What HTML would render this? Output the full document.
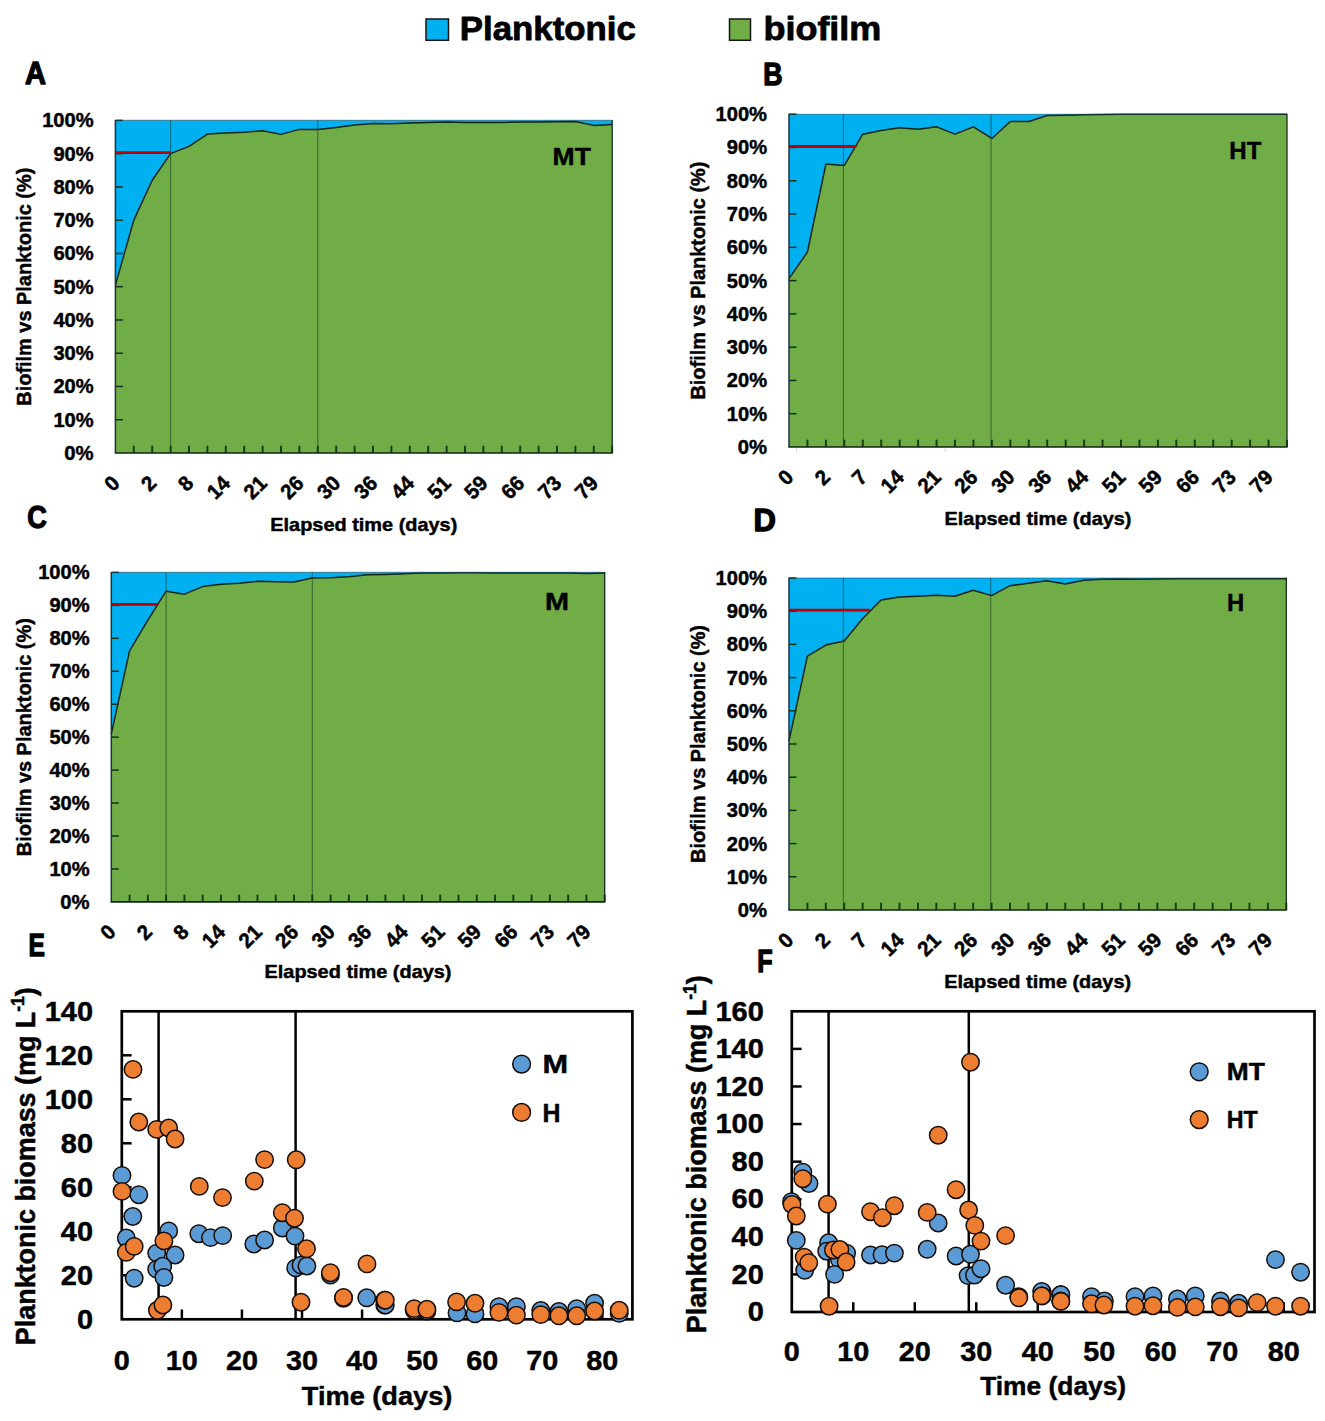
<!DOCTYPE html>
<html lang="en">
<head>
<meta charset="utf-8">
<title>Biofilm vs planktonic biomass</title>
<style>
html,body{margin:0;padding:0;background:#fff;}
body{width:1325px;height:1421px;overflow:hidden;font-family:"Liberation Sans",sans-serif;}
svg text{font-family:"Liberation Sans",sans-serif;font-weight:bold;}
</style>
</head>
<body>
<svg width="1325" height="1421" viewBox="0 0 1325 1421" style="display:block">
<rect x="426" y="19" width="22.5" height="21.3" fill="#00b0f0" stroke="#151515" stroke-width="1.5"/>
<text x="459.80" y="40.20" font-size="34" text-anchor="start" fill="#000" stroke="#000" stroke-width="0.8" stroke-linejoin="round" textLength="176.00" lengthAdjust="spacingAndGlyphs" >Planktonic</text>
<rect x="729.5" y="19" width="21" height="21.3" fill="#70ad47" stroke="#151515" stroke-width="1.5"/>
<text x="763.40" y="40.20" font-size="34" text-anchor="start" fill="#000" stroke="#000" stroke-width="0.8" stroke-linejoin="round" textLength="118.00" lengthAdjust="spacingAndGlyphs" >biofilm</text>
<text x="24.90" y="83.60" font-size="30.5" text-anchor="start" fill="#000" stroke="#000" stroke-width="1.3" stroke-linejoin="round" textLength="21.00" lengthAdjust="spacingAndGlyphs" >A</text>
<text x="763.20" y="85.00" font-size="30.5" text-anchor="start" fill="#000" stroke="#000" stroke-width="1.3" stroke-linejoin="round" textLength="19.30" lengthAdjust="spacingAndGlyphs" >B</text>
<text x="27.30" y="528.00" font-size="30.5" text-anchor="start" fill="#000" stroke="#000" stroke-width="1.3" stroke-linejoin="round" textLength="19.60" lengthAdjust="spacingAndGlyphs" >C</text>
<text x="753.60" y="531.40" font-size="30.5" text-anchor="start" fill="#000" stroke="#000" stroke-width="1.3" stroke-linejoin="round" textLength="22.40" lengthAdjust="spacingAndGlyphs" >D</text>
<text x="28.40" y="955.50" font-size="30.5" text-anchor="start" fill="#000" stroke="#000" stroke-width="1.3" stroke-linejoin="round" textLength="16.40" lengthAdjust="spacingAndGlyphs" >E</text>
<text x="757.30" y="972.40" font-size="30.5" text-anchor="start" fill="#000" stroke="#000" stroke-width="1.3" stroke-linejoin="round" textLength="15.40" lengthAdjust="spacingAndGlyphs" >F</text>
<g font-family="Liberation Sans, sans-serif" font-weight="bold">
<rect x="115.40" y="120.40" width="496.80" height="332.60" fill="#00b0f0"/>
<polygon points="115.40,453.00 115.40,285.04 133.80,220.18 152.20,180.27 170.60,153.66 189.00,146.34 207.40,134.04 225.80,133.04 244.20,132.37 262.60,130.71 281.00,134.37 299.40,129.38 317.80,129.38 336.20,127.38 354.60,125.06 373.00,123.39 391.40,123.73 409.80,123.06 428.20,122.40 446.60,122.06 465.00,122.40 483.40,122.40 501.80,122.40 520.20,122.06 538.60,122.06 557.00,121.73 575.40,121.40 593.80,125.39 612.20,124.39 612.20,453.00" fill="#70ad47"/>
<polyline points="115.40,285.04 133.80,220.18 152.20,180.27 170.60,153.66 189.00,146.34 207.40,134.04 225.80,133.04 244.20,132.37 262.60,130.71 281.00,134.37 299.40,129.38 317.80,129.38 336.20,127.38 354.60,125.06 373.00,123.39 391.40,123.73 409.80,123.06 428.20,122.40 446.60,122.06 465.00,122.40 483.40,122.40 501.80,122.40 520.20,122.06 538.60,122.06 557.00,121.73 575.40,121.40 593.80,125.39 612.20,124.39" fill="none" stroke="#0e2416" stroke-width="1.5" stroke-linejoin="round"/>
<line x1="170.60" y1="120.40" x2="170.60" y2="453.00" stroke="#0d2a18" stroke-opacity="0.5" stroke-width="1.1"/>
<line x1="317.80" y1="120.40" x2="317.80" y2="453.00" stroke="#0d2a18" stroke-opacity="0.5" stroke-width="1.1"/>
<line x1="115.40" y1="419.74" x2="122.90" y2="419.74" stroke="#14301a" stroke-width="1.5"/>
<line x1="115.40" y1="386.48" x2="122.90" y2="386.48" stroke="#14301a" stroke-width="1.5"/>
<line x1="115.40" y1="353.22" x2="122.90" y2="353.22" stroke="#14301a" stroke-width="1.5"/>
<line x1="115.40" y1="319.96" x2="122.90" y2="319.96" stroke="#14301a" stroke-width="1.5"/>
<line x1="115.40" y1="286.70" x2="122.90" y2="286.70" stroke="#14301a" stroke-width="1.5"/>
<line x1="115.40" y1="253.44" x2="122.90" y2="253.44" stroke="#14301a" stroke-width="1.5"/>
<line x1="115.40" y1="220.18" x2="122.90" y2="220.18" stroke="#14301a" stroke-width="1.5"/>
<line x1="115.40" y1="186.92" x2="122.90" y2="186.92" stroke="#14301a" stroke-width="1.5"/>
<line x1="115.40" y1="153.66" x2="122.90" y2="153.66" stroke="#14301a" stroke-width="1.5"/>
<line x1="115.40" y1="120.40" x2="122.90" y2="120.40" stroke="#14301a" stroke-width="1.5"/>
<line x1="133.80" y1="453.00" x2="133.80" y2="445.70" stroke="#163a0e" stroke-width="1.9"/>
<line x1="152.20" y1="453.00" x2="152.20" y2="445.70" stroke="#163a0e" stroke-width="1.9"/>
<line x1="170.60" y1="453.00" x2="170.60" y2="445.70" stroke="#163a0e" stroke-width="1.9"/>
<line x1="189.00" y1="453.00" x2="189.00" y2="445.70" stroke="#163a0e" stroke-width="1.9"/>
<line x1="207.40" y1="453.00" x2="207.40" y2="445.70" stroke="#163a0e" stroke-width="1.9"/>
<line x1="225.80" y1="453.00" x2="225.80" y2="445.70" stroke="#163a0e" stroke-width="1.9"/>
<line x1="244.20" y1="453.00" x2="244.20" y2="445.70" stroke="#163a0e" stroke-width="1.9"/>
<line x1="262.60" y1="453.00" x2="262.60" y2="445.70" stroke="#163a0e" stroke-width="1.9"/>
<line x1="281.00" y1="453.00" x2="281.00" y2="445.70" stroke="#163a0e" stroke-width="1.9"/>
<line x1="299.40" y1="453.00" x2="299.40" y2="445.70" stroke="#163a0e" stroke-width="1.9"/>
<line x1="317.80" y1="453.00" x2="317.80" y2="445.70" stroke="#163a0e" stroke-width="1.9"/>
<line x1="336.20" y1="453.00" x2="336.20" y2="445.70" stroke="#163a0e" stroke-width="1.9"/>
<line x1="354.60" y1="453.00" x2="354.60" y2="445.70" stroke="#163a0e" stroke-width="1.9"/>
<line x1="373.00" y1="453.00" x2="373.00" y2="445.70" stroke="#163a0e" stroke-width="1.9"/>
<line x1="391.40" y1="453.00" x2="391.40" y2="445.70" stroke="#163a0e" stroke-width="1.9"/>
<line x1="409.80" y1="453.00" x2="409.80" y2="445.70" stroke="#163a0e" stroke-width="1.9"/>
<line x1="428.20" y1="453.00" x2="428.20" y2="445.70" stroke="#163a0e" stroke-width="1.9"/>
<line x1="446.60" y1="453.00" x2="446.60" y2="445.70" stroke="#163a0e" stroke-width="1.9"/>
<line x1="465.00" y1="453.00" x2="465.00" y2="445.70" stroke="#163a0e" stroke-width="1.9"/>
<line x1="483.40" y1="453.00" x2="483.40" y2="445.70" stroke="#163a0e" stroke-width="1.9"/>
<line x1="501.80" y1="453.00" x2="501.80" y2="445.70" stroke="#163a0e" stroke-width="1.9"/>
<line x1="520.20" y1="453.00" x2="520.20" y2="445.70" stroke="#163a0e" stroke-width="1.9"/>
<line x1="538.60" y1="453.00" x2="538.60" y2="445.70" stroke="#163a0e" stroke-width="1.9"/>
<line x1="557.00" y1="453.00" x2="557.00" y2="445.70" stroke="#163a0e" stroke-width="1.9"/>
<line x1="575.40" y1="453.00" x2="575.40" y2="445.70" stroke="#163a0e" stroke-width="1.9"/>
<line x1="593.80" y1="453.00" x2="593.80" y2="445.70" stroke="#163a0e" stroke-width="1.9"/>
<line x1="612.20" y1="453.00" x2="612.20" y2="445.70" stroke="#163a0e" stroke-width="1.9"/>
<line x1="115.40" y1="152.66" x2="170.60" y2="152.66" stroke="#c00000" stroke-width="2.8"/>
<line x1="115.40" y1="120.40" x2="612.20" y2="120.40" stroke="#154a66" stroke-opacity="0.55" stroke-width="1.1"/>
<line x1="115.40" y1="119.90" x2="115.40" y2="453.00" stroke="#1d3344" stroke-width="1.5"/>
<line x1="612.20" y1="119.90" x2="612.20" y2="453.00" stroke="#14301c" stroke-width="1.3"/>
<line x1="114.80" y1="453.00" x2="612.80" y2="453.00" stroke="#10260c" stroke-width="1.6"/>
<text x="93.60" y="460.00" font-size="19.5" text-anchor="end" fill="#000" stroke="#000" stroke-width="0.45" stroke-linejoin="round" textLength="29.30" lengthAdjust="spacingAndGlyphs" >0%</text>
<text x="93.60" y="426.74" font-size="19.5" text-anchor="end" fill="#000" stroke="#000" stroke-width="0.45" stroke-linejoin="round" textLength="40.20" lengthAdjust="spacingAndGlyphs" >10%</text>
<text x="93.60" y="393.48" font-size="19.5" text-anchor="end" fill="#000" stroke="#000" stroke-width="0.45" stroke-linejoin="round" textLength="40.20" lengthAdjust="spacingAndGlyphs" >20%</text>
<text x="93.60" y="360.22" font-size="19.5" text-anchor="end" fill="#000" stroke="#000" stroke-width="0.45" stroke-linejoin="round" textLength="40.20" lengthAdjust="spacingAndGlyphs" >30%</text>
<text x="93.60" y="326.96" font-size="19.5" text-anchor="end" fill="#000" stroke="#000" stroke-width="0.45" stroke-linejoin="round" textLength="40.20" lengthAdjust="spacingAndGlyphs" >40%</text>
<text x="93.60" y="293.70" font-size="19.5" text-anchor="end" fill="#000" stroke="#000" stroke-width="0.45" stroke-linejoin="round" textLength="40.20" lengthAdjust="spacingAndGlyphs" >50%</text>
<text x="93.60" y="260.44" font-size="19.5" text-anchor="end" fill="#000" stroke="#000" stroke-width="0.45" stroke-linejoin="round" textLength="40.20" lengthAdjust="spacingAndGlyphs" >60%</text>
<text x="93.60" y="227.18" font-size="19.5" text-anchor="end" fill="#000" stroke="#000" stroke-width="0.45" stroke-linejoin="round" textLength="40.20" lengthAdjust="spacingAndGlyphs" >70%</text>
<text x="93.60" y="193.92" font-size="19.5" text-anchor="end" fill="#000" stroke="#000" stroke-width="0.45" stroke-linejoin="round" textLength="40.20" lengthAdjust="spacingAndGlyphs" >80%</text>
<text x="93.60" y="160.66" font-size="19.5" text-anchor="end" fill="#000" stroke="#000" stroke-width="0.45" stroke-linejoin="round" textLength="40.20" lengthAdjust="spacingAndGlyphs" >90%</text>
<text x="93.60" y="127.40" font-size="19.5" text-anchor="end" fill="#000" stroke="#000" stroke-width="0.45" stroke-linejoin="round" textLength="51.40" lengthAdjust="spacingAndGlyphs" >100%</text>
<text x="0" y="0" font-size="21" text-anchor="end" textLength="11.3" lengthAdjust="spacingAndGlyphs" stroke="#000" stroke-width="0.5" transform="translate(115.80 479.20) rotate(-45)" dy="7.4">0</text>
<text x="0" y="0" font-size="21" text-anchor="end" textLength="11.3" lengthAdjust="spacingAndGlyphs" stroke="#000" stroke-width="0.5" transform="translate(152.60 479.20) rotate(-45)" dy="7.4">2</text>
<text x="0" y="0" font-size="21" text-anchor="end" textLength="11.3" lengthAdjust="spacingAndGlyphs" stroke="#000" stroke-width="0.5" transform="translate(189.40 479.20) rotate(-45)" dy="7.4">8</text>
<text x="0" y="0" font-size="21" text-anchor="end" textLength="22.6" lengthAdjust="spacingAndGlyphs" stroke="#000" stroke-width="0.5" transform="translate(226.20 479.20) rotate(-45)" dy="7.4">14</text>
<text x="0" y="0" font-size="21" text-anchor="end" textLength="22.6" lengthAdjust="spacingAndGlyphs" stroke="#000" stroke-width="0.5" transform="translate(263.00 479.20) rotate(-45)" dy="7.4">21</text>
<text x="0" y="0" font-size="21" text-anchor="end" textLength="22.6" lengthAdjust="spacingAndGlyphs" stroke="#000" stroke-width="0.5" transform="translate(299.80 479.20) rotate(-45)" dy="7.4">26</text>
<text x="0" y="0" font-size="21" text-anchor="end" textLength="22.6" lengthAdjust="spacingAndGlyphs" stroke="#000" stroke-width="0.5" transform="translate(336.60 479.20) rotate(-45)" dy="7.4">30</text>
<text x="0" y="0" font-size="21" text-anchor="end" textLength="22.6" lengthAdjust="spacingAndGlyphs" stroke="#000" stroke-width="0.5" transform="translate(373.40 479.20) rotate(-45)" dy="7.4">36</text>
<text x="0" y="0" font-size="21" text-anchor="end" textLength="22.6" lengthAdjust="spacingAndGlyphs" stroke="#000" stroke-width="0.5" transform="translate(410.20 479.20) rotate(-45)" dy="7.4">44</text>
<text x="0" y="0" font-size="21" text-anchor="end" textLength="22.6" lengthAdjust="spacingAndGlyphs" stroke="#000" stroke-width="0.5" transform="translate(447.00 479.20) rotate(-45)" dy="7.4">51</text>
<text x="0" y="0" font-size="21" text-anchor="end" textLength="22.6" lengthAdjust="spacingAndGlyphs" stroke="#000" stroke-width="0.5" transform="translate(483.80 479.20) rotate(-45)" dy="7.4">59</text>
<text x="0" y="0" font-size="21" text-anchor="end" textLength="22.6" lengthAdjust="spacingAndGlyphs" stroke="#000" stroke-width="0.5" transform="translate(520.60 479.20) rotate(-45)" dy="7.4">66</text>
<text x="0" y="0" font-size="21" text-anchor="end" textLength="22.6" lengthAdjust="spacingAndGlyphs" stroke="#000" stroke-width="0.5" transform="translate(557.40 479.20) rotate(-45)" dy="7.4">73</text>
<text x="0" y="0" font-size="21" text-anchor="end" textLength="22.6" lengthAdjust="spacingAndGlyphs" stroke="#000" stroke-width="0.5" transform="translate(594.20 479.20) rotate(-45)" dy="7.4">79</text>
<text x="31.50" y="286.70" font-size="19.5" text-anchor="middle" fill="#000" stroke="#000" stroke-width="0.45" stroke-linejoin="round" textLength="238.00" lengthAdjust="spacingAndGlyphs" transform="rotate(-90 31.50 286.70)" >Biofilm vs Planktonic (%)</text>
<text x="363.80" y="530.80" font-size="18.5" text-anchor="middle" fill="#000" stroke="#000" stroke-width="0.45" stroke-linejoin="round" textLength="187.00" lengthAdjust="spacingAndGlyphs" >Elapsed time (days)</text>
<text x="552.60" y="165.30" font-size="24" text-anchor="start" fill="#000" stroke="#000" stroke-width="0.45" stroke-linejoin="round" textLength="38.20" lengthAdjust="spacingAndGlyphs" >MT</text>
<rect x="789.00" y="114.20" width="498.00" height="332.80" fill="#00b0f0"/>
<polygon points="789.00,447.00 789.00,278.60 807.44,251.98 825.89,164.12 844.33,165.45 862.78,134.17 881.22,130.51 899.67,127.84 918.11,129.18 936.56,126.85 955.00,134.17 973.44,126.85 991.89,138.49 1010.33,121.52 1028.78,121.52 1047.22,115.53 1065.67,115.20 1084.11,114.87 1102.56,114.53 1121.00,114.20 1139.44,114.20 1157.89,114.20 1176.33,114.20 1194.78,114.20 1213.22,114.20 1231.67,114.20 1250.11,114.20 1268.56,114.20 1287.00,114.20 1287.00,447.00" fill="#70ad47"/>
<polyline points="789.00,278.60 807.44,251.98 825.89,164.12 844.33,165.45 862.78,134.17 881.22,130.51 899.67,127.84 918.11,129.18 936.56,126.85 955.00,134.17 973.44,126.85 991.89,138.49 1010.33,121.52 1028.78,121.52 1047.22,115.53 1065.67,115.20 1084.11,114.87 1102.56,114.53 1121.00,114.20 1139.44,114.20 1157.89,114.20 1176.33,114.20 1194.78,114.20 1213.22,114.20 1231.67,114.20 1250.11,114.20 1268.56,114.20 1287.00,114.20" fill="none" stroke="#0e2416" stroke-width="1.5" stroke-linejoin="round"/>
<line x1="843.43" y1="114.20" x2="843.43" y2="447.00" stroke="#0d2a18" stroke-opacity="0.5" stroke-width="1.1"/>
<line x1="990.99" y1="114.20" x2="990.99" y2="447.00" stroke="#0d2a18" stroke-opacity="0.5" stroke-width="1.1"/>
<line x1="789.00" y1="413.72" x2="796.50" y2="413.72" stroke="#14301a" stroke-width="1.5"/>
<line x1="789.00" y1="380.44" x2="796.50" y2="380.44" stroke="#14301a" stroke-width="1.5"/>
<line x1="789.00" y1="347.16" x2="796.50" y2="347.16" stroke="#14301a" stroke-width="1.5"/>
<line x1="789.00" y1="313.88" x2="796.50" y2="313.88" stroke="#14301a" stroke-width="1.5"/>
<line x1="789.00" y1="280.60" x2="796.50" y2="280.60" stroke="#14301a" stroke-width="1.5"/>
<line x1="789.00" y1="247.32" x2="796.50" y2="247.32" stroke="#14301a" stroke-width="1.5"/>
<line x1="789.00" y1="214.04" x2="796.50" y2="214.04" stroke="#14301a" stroke-width="1.5"/>
<line x1="789.00" y1="180.76" x2="796.50" y2="180.76" stroke="#14301a" stroke-width="1.5"/>
<line x1="789.00" y1="147.48" x2="796.50" y2="147.48" stroke="#14301a" stroke-width="1.5"/>
<line x1="789.00" y1="114.20" x2="796.50" y2="114.20" stroke="#14301a" stroke-width="1.5"/>
<line x1="807.44" y1="447.00" x2="807.44" y2="439.70" stroke="#163a0e" stroke-width="1.9"/>
<line x1="825.89" y1="447.00" x2="825.89" y2="439.70" stroke="#163a0e" stroke-width="1.9"/>
<line x1="844.33" y1="447.00" x2="844.33" y2="439.70" stroke="#163a0e" stroke-width="1.9"/>
<line x1="862.78" y1="447.00" x2="862.78" y2="439.70" stroke="#163a0e" stroke-width="1.9"/>
<line x1="881.22" y1="447.00" x2="881.22" y2="439.70" stroke="#163a0e" stroke-width="1.9"/>
<line x1="899.67" y1="447.00" x2="899.67" y2="439.70" stroke="#163a0e" stroke-width="1.9"/>
<line x1="918.11" y1="447.00" x2="918.11" y2="439.70" stroke="#163a0e" stroke-width="1.9"/>
<line x1="936.56" y1="447.00" x2="936.56" y2="439.70" stroke="#163a0e" stroke-width="1.9"/>
<line x1="955.00" y1="447.00" x2="955.00" y2="439.70" stroke="#163a0e" stroke-width="1.9"/>
<line x1="973.44" y1="447.00" x2="973.44" y2="439.70" stroke="#163a0e" stroke-width="1.9"/>
<line x1="991.89" y1="447.00" x2="991.89" y2="439.70" stroke="#163a0e" stroke-width="1.9"/>
<line x1="1010.33" y1="447.00" x2="1010.33" y2="439.70" stroke="#163a0e" stroke-width="1.9"/>
<line x1="1028.78" y1="447.00" x2="1028.78" y2="439.70" stroke="#163a0e" stroke-width="1.9"/>
<line x1="1047.22" y1="447.00" x2="1047.22" y2="439.70" stroke="#163a0e" stroke-width="1.9"/>
<line x1="1065.67" y1="447.00" x2="1065.67" y2="439.70" stroke="#163a0e" stroke-width="1.9"/>
<line x1="1084.11" y1="447.00" x2="1084.11" y2="439.70" stroke="#163a0e" stroke-width="1.9"/>
<line x1="1102.56" y1="447.00" x2="1102.56" y2="439.70" stroke="#163a0e" stroke-width="1.9"/>
<line x1="1121.00" y1="447.00" x2="1121.00" y2="439.70" stroke="#163a0e" stroke-width="1.9"/>
<line x1="1139.44" y1="447.00" x2="1139.44" y2="439.70" stroke="#163a0e" stroke-width="1.9"/>
<line x1="1157.89" y1="447.00" x2="1157.89" y2="439.70" stroke="#163a0e" stroke-width="1.9"/>
<line x1="1176.33" y1="447.00" x2="1176.33" y2="439.70" stroke="#163a0e" stroke-width="1.9"/>
<line x1="1194.78" y1="447.00" x2="1194.78" y2="439.70" stroke="#163a0e" stroke-width="1.9"/>
<line x1="1213.22" y1="447.00" x2="1213.22" y2="439.70" stroke="#163a0e" stroke-width="1.9"/>
<line x1="1231.67" y1="447.00" x2="1231.67" y2="439.70" stroke="#163a0e" stroke-width="1.9"/>
<line x1="1250.11" y1="447.00" x2="1250.11" y2="439.70" stroke="#163a0e" stroke-width="1.9"/>
<line x1="1268.56" y1="447.00" x2="1268.56" y2="439.70" stroke="#163a0e" stroke-width="1.9"/>
<line x1="1287.00" y1="447.00" x2="1287.00" y2="439.70" stroke="#163a0e" stroke-width="1.9"/>
<line x1="789.00" y1="146.48" x2="856.30" y2="146.48" stroke="#c00000" stroke-width="2.8"/>
<line x1="789.00" y1="114.20" x2="1287.00" y2="114.20" stroke="#154a66" stroke-opacity="0.55" stroke-width="1.1"/>
<line x1="789.00" y1="113.70" x2="789.00" y2="447.00" stroke="#1d3344" stroke-width="1.5"/>
<line x1="1287.00" y1="113.70" x2="1287.00" y2="447.00" stroke="#14301c" stroke-width="1.3"/>
<line x1="788.40" y1="447.00" x2="1287.60" y2="447.00" stroke="#10260c" stroke-width="1.6"/>
<text x="767.00" y="454.00" font-size="19.5" text-anchor="end" fill="#000" stroke="#000" stroke-width="0.45" stroke-linejoin="round" textLength="29.30" lengthAdjust="spacingAndGlyphs" >0%</text>
<text x="767.00" y="420.72" font-size="19.5" text-anchor="end" fill="#000" stroke="#000" stroke-width="0.45" stroke-linejoin="round" textLength="40.20" lengthAdjust="spacingAndGlyphs" >10%</text>
<text x="767.00" y="387.44" font-size="19.5" text-anchor="end" fill="#000" stroke="#000" stroke-width="0.45" stroke-linejoin="round" textLength="40.20" lengthAdjust="spacingAndGlyphs" >20%</text>
<text x="767.00" y="354.16" font-size="19.5" text-anchor="end" fill="#000" stroke="#000" stroke-width="0.45" stroke-linejoin="round" textLength="40.20" lengthAdjust="spacingAndGlyphs" >30%</text>
<text x="767.00" y="320.88" font-size="19.5" text-anchor="end" fill="#000" stroke="#000" stroke-width="0.45" stroke-linejoin="round" textLength="40.20" lengthAdjust="spacingAndGlyphs" >40%</text>
<text x="767.00" y="287.60" font-size="19.5" text-anchor="end" fill="#000" stroke="#000" stroke-width="0.45" stroke-linejoin="round" textLength="40.20" lengthAdjust="spacingAndGlyphs" >50%</text>
<text x="767.00" y="254.32" font-size="19.5" text-anchor="end" fill="#000" stroke="#000" stroke-width="0.45" stroke-linejoin="round" textLength="40.20" lengthAdjust="spacingAndGlyphs" >60%</text>
<text x="767.00" y="221.04" font-size="19.5" text-anchor="end" fill="#000" stroke="#000" stroke-width="0.45" stroke-linejoin="round" textLength="40.20" lengthAdjust="spacingAndGlyphs" >70%</text>
<text x="767.00" y="187.76" font-size="19.5" text-anchor="end" fill="#000" stroke="#000" stroke-width="0.45" stroke-linejoin="round" textLength="40.20" lengthAdjust="spacingAndGlyphs" >80%</text>
<text x="767.00" y="154.48" font-size="19.5" text-anchor="end" fill="#000" stroke="#000" stroke-width="0.45" stroke-linejoin="round" textLength="40.20" lengthAdjust="spacingAndGlyphs" >90%</text>
<text x="767.00" y="121.20" font-size="19.5" text-anchor="end" fill="#000" stroke="#000" stroke-width="0.45" stroke-linejoin="round" textLength="51.40" lengthAdjust="spacingAndGlyphs" >100%</text>
<text x="0" y="0" font-size="21" text-anchor="end" textLength="11.3" lengthAdjust="spacingAndGlyphs" stroke="#000" stroke-width="0.5" transform="translate(789.40 473.20) rotate(-45)" dy="7.4">0</text>
<text x="0" y="0" font-size="21" text-anchor="end" textLength="11.3" lengthAdjust="spacingAndGlyphs" stroke="#000" stroke-width="0.5" transform="translate(826.29 473.20) rotate(-45)" dy="7.4">2</text>
<text x="0" y="0" font-size="21" text-anchor="end" textLength="11.3" lengthAdjust="spacingAndGlyphs" stroke="#000" stroke-width="0.5" transform="translate(863.18 473.20) rotate(-45)" dy="7.4">7</text>
<text x="0" y="0" font-size="21" text-anchor="end" textLength="22.6" lengthAdjust="spacingAndGlyphs" stroke="#000" stroke-width="0.5" transform="translate(900.07 473.20) rotate(-45)" dy="7.4">14</text>
<text x="0" y="0" font-size="21" text-anchor="end" textLength="22.6" lengthAdjust="spacingAndGlyphs" stroke="#000" stroke-width="0.5" transform="translate(936.96 473.20) rotate(-45)" dy="7.4">21</text>
<text x="0" y="0" font-size="21" text-anchor="end" textLength="22.6" lengthAdjust="spacingAndGlyphs" stroke="#000" stroke-width="0.5" transform="translate(973.84 473.20) rotate(-45)" dy="7.4">26</text>
<text x="0" y="0" font-size="21" text-anchor="end" textLength="22.6" lengthAdjust="spacingAndGlyphs" stroke="#000" stroke-width="0.5" transform="translate(1010.73 473.20) rotate(-45)" dy="7.4">30</text>
<text x="0" y="0" font-size="21" text-anchor="end" textLength="22.6" lengthAdjust="spacingAndGlyphs" stroke="#000" stroke-width="0.5" transform="translate(1047.62 473.20) rotate(-45)" dy="7.4">36</text>
<text x="0" y="0" font-size="21" text-anchor="end" textLength="22.6" lengthAdjust="spacingAndGlyphs" stroke="#000" stroke-width="0.5" transform="translate(1084.51 473.20) rotate(-45)" dy="7.4">44</text>
<text x="0" y="0" font-size="21" text-anchor="end" textLength="22.6" lengthAdjust="spacingAndGlyphs" stroke="#000" stroke-width="0.5" transform="translate(1121.40 473.20) rotate(-45)" dy="7.4">51</text>
<text x="0" y="0" font-size="21" text-anchor="end" textLength="22.6" lengthAdjust="spacingAndGlyphs" stroke="#000" stroke-width="0.5" transform="translate(1158.29 473.20) rotate(-45)" dy="7.4">59</text>
<text x="0" y="0" font-size="21" text-anchor="end" textLength="22.6" lengthAdjust="spacingAndGlyphs" stroke="#000" stroke-width="0.5" transform="translate(1195.18 473.20) rotate(-45)" dy="7.4">66</text>
<text x="0" y="0" font-size="21" text-anchor="end" textLength="22.6" lengthAdjust="spacingAndGlyphs" stroke="#000" stroke-width="0.5" transform="translate(1232.07 473.20) rotate(-45)" dy="7.4">73</text>
<text x="0" y="0" font-size="21" text-anchor="end" textLength="22.6" lengthAdjust="spacingAndGlyphs" stroke="#000" stroke-width="0.5" transform="translate(1268.96 473.20) rotate(-45)" dy="7.4">79</text>
<text x="705.00" y="280.60" font-size="19.5" text-anchor="middle" fill="#000" stroke="#000" stroke-width="0.45" stroke-linejoin="round" textLength="238.00" lengthAdjust="spacingAndGlyphs" transform="rotate(-90 705.00 280.60)" >Biofilm vs Planktonic (%)</text>
<text x="1038.00" y="524.50" font-size="18.5" text-anchor="middle" fill="#000" stroke="#000" stroke-width="0.45" stroke-linejoin="round" textLength="187.00" lengthAdjust="spacingAndGlyphs" >Elapsed time (days)</text>
<text x="1229.30" y="158.50" font-size="24" text-anchor="start" fill="#000" stroke="#000" stroke-width="0.45" stroke-linejoin="round" textLength="32.00" lengthAdjust="spacingAndGlyphs" >HT</text>
<rect x="111.30" y="572.40" width="493.40" height="329.50" fill="#00b0f0"/>
<polygon points="111.30,901.90 111.30,733.86 129.57,650.82 147.85,620.18 166.12,591.18 184.40,594.15 202.67,586.57 220.94,584.26 239.22,583.27 257.49,581.30 275.77,581.63 294.04,581.96 312.31,578.00 330.59,577.67 348.86,576.68 367.14,574.71 385.41,574.38 403.69,573.72 421.96,573.06 440.23,573.06 458.51,572.73 476.78,572.73 495.06,573.06 513.33,573.06 531.60,573.06 549.88,573.06 568.15,573.06 586.43,573.39 604.70,573.06 604.70,901.90" fill="#70ad47"/>
<polyline points="111.30,733.86 129.57,650.82 147.85,620.18 166.12,591.18 184.40,594.15 202.67,586.57 220.94,584.26 239.22,583.27 257.49,581.30 275.77,581.63 294.04,581.96 312.31,578.00 330.59,577.67 348.86,576.68 367.14,574.71 385.41,574.38 403.69,573.72 421.96,573.06 440.23,573.06 458.51,572.73 476.78,572.73 495.06,573.06 513.33,573.06 531.60,573.06 549.88,573.06 568.15,573.06 586.43,573.39 604.70,573.06" fill="none" stroke="#0e2416" stroke-width="1.5" stroke-linejoin="round"/>
<line x1="166.12" y1="572.40" x2="166.12" y2="901.90" stroke="#0d2a18" stroke-opacity="0.5" stroke-width="1.1"/>
<line x1="312.31" y1="572.40" x2="312.31" y2="901.90" stroke="#0d2a18" stroke-opacity="0.5" stroke-width="1.1"/>
<line x1="111.30" y1="868.95" x2="118.80" y2="868.95" stroke="#14301a" stroke-width="1.5"/>
<line x1="111.30" y1="836.00" x2="118.80" y2="836.00" stroke="#14301a" stroke-width="1.5"/>
<line x1="111.30" y1="803.05" x2="118.80" y2="803.05" stroke="#14301a" stroke-width="1.5"/>
<line x1="111.30" y1="770.10" x2="118.80" y2="770.10" stroke="#14301a" stroke-width="1.5"/>
<line x1="111.30" y1="737.15" x2="118.80" y2="737.15" stroke="#14301a" stroke-width="1.5"/>
<line x1="111.30" y1="704.20" x2="118.80" y2="704.20" stroke="#14301a" stroke-width="1.5"/>
<line x1="111.30" y1="671.25" x2="118.80" y2="671.25" stroke="#14301a" stroke-width="1.5"/>
<line x1="111.30" y1="638.30" x2="118.80" y2="638.30" stroke="#14301a" stroke-width="1.5"/>
<line x1="111.30" y1="605.35" x2="118.80" y2="605.35" stroke="#14301a" stroke-width="1.5"/>
<line x1="111.30" y1="572.40" x2="118.80" y2="572.40" stroke="#14301a" stroke-width="1.5"/>
<line x1="129.57" y1="901.90" x2="129.57" y2="894.60" stroke="#163a0e" stroke-width="1.9"/>
<line x1="147.85" y1="901.90" x2="147.85" y2="894.60" stroke="#163a0e" stroke-width="1.9"/>
<line x1="166.12" y1="901.90" x2="166.12" y2="894.60" stroke="#163a0e" stroke-width="1.9"/>
<line x1="184.40" y1="901.90" x2="184.40" y2="894.60" stroke="#163a0e" stroke-width="1.9"/>
<line x1="202.67" y1="901.90" x2="202.67" y2="894.60" stroke="#163a0e" stroke-width="1.9"/>
<line x1="220.94" y1="901.90" x2="220.94" y2="894.60" stroke="#163a0e" stroke-width="1.9"/>
<line x1="239.22" y1="901.90" x2="239.22" y2="894.60" stroke="#163a0e" stroke-width="1.9"/>
<line x1="257.49" y1="901.90" x2="257.49" y2="894.60" stroke="#163a0e" stroke-width="1.9"/>
<line x1="275.77" y1="901.90" x2="275.77" y2="894.60" stroke="#163a0e" stroke-width="1.9"/>
<line x1="294.04" y1="901.90" x2="294.04" y2="894.60" stroke="#163a0e" stroke-width="1.9"/>
<line x1="312.31" y1="901.90" x2="312.31" y2="894.60" stroke="#163a0e" stroke-width="1.9"/>
<line x1="330.59" y1="901.90" x2="330.59" y2="894.60" stroke="#163a0e" stroke-width="1.9"/>
<line x1="348.86" y1="901.90" x2="348.86" y2="894.60" stroke="#163a0e" stroke-width="1.9"/>
<line x1="367.14" y1="901.90" x2="367.14" y2="894.60" stroke="#163a0e" stroke-width="1.9"/>
<line x1="385.41" y1="901.90" x2="385.41" y2="894.60" stroke="#163a0e" stroke-width="1.9"/>
<line x1="403.69" y1="901.90" x2="403.69" y2="894.60" stroke="#163a0e" stroke-width="1.9"/>
<line x1="421.96" y1="901.90" x2="421.96" y2="894.60" stroke="#163a0e" stroke-width="1.9"/>
<line x1="440.23" y1="901.90" x2="440.23" y2="894.60" stroke="#163a0e" stroke-width="1.9"/>
<line x1="458.51" y1="901.90" x2="458.51" y2="894.60" stroke="#163a0e" stroke-width="1.9"/>
<line x1="476.78" y1="901.90" x2="476.78" y2="894.60" stroke="#163a0e" stroke-width="1.9"/>
<line x1="495.06" y1="901.90" x2="495.06" y2="894.60" stroke="#163a0e" stroke-width="1.9"/>
<line x1="513.33" y1="901.90" x2="513.33" y2="894.60" stroke="#163a0e" stroke-width="1.9"/>
<line x1="531.60" y1="901.90" x2="531.60" y2="894.60" stroke="#163a0e" stroke-width="1.9"/>
<line x1="549.88" y1="901.90" x2="549.88" y2="894.60" stroke="#163a0e" stroke-width="1.9"/>
<line x1="568.15" y1="901.90" x2="568.15" y2="894.60" stroke="#163a0e" stroke-width="1.9"/>
<line x1="586.43" y1="901.90" x2="586.43" y2="894.60" stroke="#163a0e" stroke-width="1.9"/>
<line x1="604.70" y1="901.90" x2="604.70" y2="894.60" stroke="#163a0e" stroke-width="1.9"/>
<line x1="111.30" y1="604.35" x2="157.00" y2="604.35" stroke="#c00000" stroke-width="2.8"/>
<line x1="111.30" y1="572.40" x2="604.70" y2="572.40" stroke="#154a66" stroke-opacity="0.55" stroke-width="1.1"/>
<line x1="111.30" y1="571.90" x2="111.30" y2="901.90" stroke="#1d3344" stroke-width="1.5"/>
<line x1="604.70" y1="571.90" x2="604.70" y2="901.90" stroke="#14301c" stroke-width="1.3"/>
<line x1="110.70" y1="901.90" x2="605.30" y2="901.90" stroke="#10260c" stroke-width="1.6"/>
<text x="89.60" y="908.90" font-size="19.5" text-anchor="end" fill="#000" stroke="#000" stroke-width="0.45" stroke-linejoin="round" textLength="29.30" lengthAdjust="spacingAndGlyphs" >0%</text>
<text x="89.60" y="875.95" font-size="19.5" text-anchor="end" fill="#000" stroke="#000" stroke-width="0.45" stroke-linejoin="round" textLength="40.20" lengthAdjust="spacingAndGlyphs" >10%</text>
<text x="89.60" y="843.00" font-size="19.5" text-anchor="end" fill="#000" stroke="#000" stroke-width="0.45" stroke-linejoin="round" textLength="40.20" lengthAdjust="spacingAndGlyphs" >20%</text>
<text x="89.60" y="810.05" font-size="19.5" text-anchor="end" fill="#000" stroke="#000" stroke-width="0.45" stroke-linejoin="round" textLength="40.20" lengthAdjust="spacingAndGlyphs" >30%</text>
<text x="89.60" y="777.10" font-size="19.5" text-anchor="end" fill="#000" stroke="#000" stroke-width="0.45" stroke-linejoin="round" textLength="40.20" lengthAdjust="spacingAndGlyphs" >40%</text>
<text x="89.60" y="744.15" font-size="19.5" text-anchor="end" fill="#000" stroke="#000" stroke-width="0.45" stroke-linejoin="round" textLength="40.20" lengthAdjust="spacingAndGlyphs" >50%</text>
<text x="89.60" y="711.20" font-size="19.5" text-anchor="end" fill="#000" stroke="#000" stroke-width="0.45" stroke-linejoin="round" textLength="40.20" lengthAdjust="spacingAndGlyphs" >60%</text>
<text x="89.60" y="678.25" font-size="19.5" text-anchor="end" fill="#000" stroke="#000" stroke-width="0.45" stroke-linejoin="round" textLength="40.20" lengthAdjust="spacingAndGlyphs" >70%</text>
<text x="89.60" y="645.30" font-size="19.5" text-anchor="end" fill="#000" stroke="#000" stroke-width="0.45" stroke-linejoin="round" textLength="40.20" lengthAdjust="spacingAndGlyphs" >80%</text>
<text x="89.60" y="612.35" font-size="19.5" text-anchor="end" fill="#000" stroke="#000" stroke-width="0.45" stroke-linejoin="round" textLength="40.20" lengthAdjust="spacingAndGlyphs" >90%</text>
<text x="89.60" y="579.40" font-size="19.5" text-anchor="end" fill="#000" stroke="#000" stroke-width="0.45" stroke-linejoin="round" textLength="51.40" lengthAdjust="spacingAndGlyphs" >100%</text>
<text x="0" y="0" font-size="21" text-anchor="end" textLength="11.3" lengthAdjust="spacingAndGlyphs" stroke="#000" stroke-width="0.5" transform="translate(111.70 928.10) rotate(-45)" dy="7.4">0</text>
<text x="0" y="0" font-size="21" text-anchor="end" textLength="11.3" lengthAdjust="spacingAndGlyphs" stroke="#000" stroke-width="0.5" transform="translate(148.25 928.10) rotate(-45)" dy="7.4">2</text>
<text x="0" y="0" font-size="21" text-anchor="end" textLength="11.3" lengthAdjust="spacingAndGlyphs" stroke="#000" stroke-width="0.5" transform="translate(184.80 928.10) rotate(-45)" dy="7.4">8</text>
<text x="0" y="0" font-size="21" text-anchor="end" textLength="22.6" lengthAdjust="spacingAndGlyphs" stroke="#000" stroke-width="0.5" transform="translate(221.34 928.10) rotate(-45)" dy="7.4">14</text>
<text x="0" y="0" font-size="21" text-anchor="end" textLength="22.6" lengthAdjust="spacingAndGlyphs" stroke="#000" stroke-width="0.5" transform="translate(257.89 928.10) rotate(-45)" dy="7.4">21</text>
<text x="0" y="0" font-size="21" text-anchor="end" textLength="22.6" lengthAdjust="spacingAndGlyphs" stroke="#000" stroke-width="0.5" transform="translate(294.44 928.10) rotate(-45)" dy="7.4">26</text>
<text x="0" y="0" font-size="21" text-anchor="end" textLength="22.6" lengthAdjust="spacingAndGlyphs" stroke="#000" stroke-width="0.5" transform="translate(330.99 928.10) rotate(-45)" dy="7.4">30</text>
<text x="0" y="0" font-size="21" text-anchor="end" textLength="22.6" lengthAdjust="spacingAndGlyphs" stroke="#000" stroke-width="0.5" transform="translate(367.54 928.10) rotate(-45)" dy="7.4">36</text>
<text x="0" y="0" font-size="21" text-anchor="end" textLength="22.6" lengthAdjust="spacingAndGlyphs" stroke="#000" stroke-width="0.5" transform="translate(404.09 928.10) rotate(-45)" dy="7.4">44</text>
<text x="0" y="0" font-size="21" text-anchor="end" textLength="22.6" lengthAdjust="spacingAndGlyphs" stroke="#000" stroke-width="0.5" transform="translate(440.63 928.10) rotate(-45)" dy="7.4">51</text>
<text x="0" y="0" font-size="21" text-anchor="end" textLength="22.6" lengthAdjust="spacingAndGlyphs" stroke="#000" stroke-width="0.5" transform="translate(477.18 928.10) rotate(-45)" dy="7.4">59</text>
<text x="0" y="0" font-size="21" text-anchor="end" textLength="22.6" lengthAdjust="spacingAndGlyphs" stroke="#000" stroke-width="0.5" transform="translate(513.73 928.10) rotate(-45)" dy="7.4">66</text>
<text x="0" y="0" font-size="21" text-anchor="end" textLength="22.6" lengthAdjust="spacingAndGlyphs" stroke="#000" stroke-width="0.5" transform="translate(550.28 928.10) rotate(-45)" dy="7.4">73</text>
<text x="0" y="0" font-size="21" text-anchor="end" textLength="22.6" lengthAdjust="spacingAndGlyphs" stroke="#000" stroke-width="0.5" transform="translate(586.83 928.10) rotate(-45)" dy="7.4">79</text>
<text x="31.00" y="737.15" font-size="19.5" text-anchor="middle" fill="#000" stroke="#000" stroke-width="0.45" stroke-linejoin="round" textLength="238.00" lengthAdjust="spacingAndGlyphs" transform="rotate(-90 31.00 737.15)" >Biofilm vs Planktonic (%)</text>
<text x="358.00" y="977.50" font-size="18.5" text-anchor="middle" fill="#000" stroke="#000" stroke-width="0.45" stroke-linejoin="round" textLength="187.00" lengthAdjust="spacingAndGlyphs" >Elapsed time (days)</text>
<text x="545.00" y="609.80" font-size="24" text-anchor="start" fill="#000" stroke="#000" stroke-width="0.45" stroke-linejoin="round" textLength="24.00" lengthAdjust="spacingAndGlyphs" >M</text>
<rect x="789.00" y="578.00" width="497.30" height="332.00" fill="#00b0f0"/>
<polygon points="789.00,910.00 789.00,740.68 807.42,656.02 825.84,645.06 844.26,641.08 862.67,618.50 881.09,599.91 899.51,596.92 917.93,596.26 936.35,595.26 954.77,596.26 973.19,590.28 991.60,595.60 1010.02,585.64 1028.44,583.31 1046.86,580.66 1065.28,583.98 1083.70,580.32 1102.11,579.33 1120.53,579.00 1138.95,579.33 1157.37,579.00 1175.79,578.66 1194.21,578.66 1212.63,578.66 1231.04,578.66 1249.46,578.66 1267.88,578.66 1286.30,578.66 1286.30,910.00" fill="#70ad47"/>
<polyline points="789.00,740.68 807.42,656.02 825.84,645.06 844.26,641.08 862.67,618.50 881.09,599.91 899.51,596.92 917.93,596.26 936.35,595.26 954.77,596.26 973.19,590.28 991.60,595.60 1010.02,585.64 1028.44,583.31 1046.86,580.66 1065.28,583.98 1083.70,580.32 1102.11,579.33 1120.53,579.00 1138.95,579.33 1157.37,579.00 1175.79,578.66 1194.21,578.66 1212.63,578.66 1231.04,578.66 1249.46,578.66 1267.88,578.66 1286.30,578.66" fill="none" stroke="#0e2416" stroke-width="1.5" stroke-linejoin="round"/>
<line x1="843.36" y1="578.00" x2="843.36" y2="910.00" stroke="#0d2a18" stroke-opacity="0.5" stroke-width="1.1"/>
<line x1="990.70" y1="578.00" x2="990.70" y2="910.00" stroke="#0d2a18" stroke-opacity="0.5" stroke-width="1.1"/>
<line x1="789.00" y1="876.80" x2="796.50" y2="876.80" stroke="#14301a" stroke-width="1.5"/>
<line x1="789.00" y1="843.60" x2="796.50" y2="843.60" stroke="#14301a" stroke-width="1.5"/>
<line x1="789.00" y1="810.40" x2="796.50" y2="810.40" stroke="#14301a" stroke-width="1.5"/>
<line x1="789.00" y1="777.20" x2="796.50" y2="777.20" stroke="#14301a" stroke-width="1.5"/>
<line x1="789.00" y1="744.00" x2="796.50" y2="744.00" stroke="#14301a" stroke-width="1.5"/>
<line x1="789.00" y1="710.80" x2="796.50" y2="710.80" stroke="#14301a" stroke-width="1.5"/>
<line x1="789.00" y1="677.60" x2="796.50" y2="677.60" stroke="#14301a" stroke-width="1.5"/>
<line x1="789.00" y1="644.40" x2="796.50" y2="644.40" stroke="#14301a" stroke-width="1.5"/>
<line x1="789.00" y1="611.20" x2="796.50" y2="611.20" stroke="#14301a" stroke-width="1.5"/>
<line x1="789.00" y1="578.00" x2="796.50" y2="578.00" stroke="#14301a" stroke-width="1.5"/>
<line x1="807.42" y1="910.00" x2="807.42" y2="902.70" stroke="#163a0e" stroke-width="1.9"/>
<line x1="825.84" y1="910.00" x2="825.84" y2="902.70" stroke="#163a0e" stroke-width="1.9"/>
<line x1="844.26" y1="910.00" x2="844.26" y2="902.70" stroke="#163a0e" stroke-width="1.9"/>
<line x1="862.67" y1="910.00" x2="862.67" y2="902.70" stroke="#163a0e" stroke-width="1.9"/>
<line x1="881.09" y1="910.00" x2="881.09" y2="902.70" stroke="#163a0e" stroke-width="1.9"/>
<line x1="899.51" y1="910.00" x2="899.51" y2="902.70" stroke="#163a0e" stroke-width="1.9"/>
<line x1="917.93" y1="910.00" x2="917.93" y2="902.70" stroke="#163a0e" stroke-width="1.9"/>
<line x1="936.35" y1="910.00" x2="936.35" y2="902.70" stroke="#163a0e" stroke-width="1.9"/>
<line x1="954.77" y1="910.00" x2="954.77" y2="902.70" stroke="#163a0e" stroke-width="1.9"/>
<line x1="973.19" y1="910.00" x2="973.19" y2="902.70" stroke="#163a0e" stroke-width="1.9"/>
<line x1="991.60" y1="910.00" x2="991.60" y2="902.70" stroke="#163a0e" stroke-width="1.9"/>
<line x1="1010.02" y1="910.00" x2="1010.02" y2="902.70" stroke="#163a0e" stroke-width="1.9"/>
<line x1="1028.44" y1="910.00" x2="1028.44" y2="902.70" stroke="#163a0e" stroke-width="1.9"/>
<line x1="1046.86" y1="910.00" x2="1046.86" y2="902.70" stroke="#163a0e" stroke-width="1.9"/>
<line x1="1065.28" y1="910.00" x2="1065.28" y2="902.70" stroke="#163a0e" stroke-width="1.9"/>
<line x1="1083.70" y1="910.00" x2="1083.70" y2="902.70" stroke="#163a0e" stroke-width="1.9"/>
<line x1="1102.11" y1="910.00" x2="1102.11" y2="902.70" stroke="#163a0e" stroke-width="1.9"/>
<line x1="1120.53" y1="910.00" x2="1120.53" y2="902.70" stroke="#163a0e" stroke-width="1.9"/>
<line x1="1138.95" y1="910.00" x2="1138.95" y2="902.70" stroke="#163a0e" stroke-width="1.9"/>
<line x1="1157.37" y1="910.00" x2="1157.37" y2="902.70" stroke="#163a0e" stroke-width="1.9"/>
<line x1="1175.79" y1="910.00" x2="1175.79" y2="902.70" stroke="#163a0e" stroke-width="1.9"/>
<line x1="1194.21" y1="910.00" x2="1194.21" y2="902.70" stroke="#163a0e" stroke-width="1.9"/>
<line x1="1212.63" y1="910.00" x2="1212.63" y2="902.70" stroke="#163a0e" stroke-width="1.9"/>
<line x1="1231.04" y1="910.00" x2="1231.04" y2="902.70" stroke="#163a0e" stroke-width="1.9"/>
<line x1="1249.46" y1="910.00" x2="1249.46" y2="902.70" stroke="#163a0e" stroke-width="1.9"/>
<line x1="1267.88" y1="910.00" x2="1267.88" y2="902.70" stroke="#163a0e" stroke-width="1.9"/>
<line x1="1286.30" y1="910.00" x2="1286.30" y2="902.70" stroke="#163a0e" stroke-width="1.9"/>
<line x1="789.00" y1="610.20" x2="869.50" y2="610.20" stroke="#c00000" stroke-width="2.8"/>
<line x1="789.00" y1="578.00" x2="1286.30" y2="578.00" stroke="#154a66" stroke-opacity="0.55" stroke-width="1.1"/>
<line x1="789.00" y1="577.50" x2="789.00" y2="910.00" stroke="#1d3344" stroke-width="1.5"/>
<line x1="1286.30" y1="577.50" x2="1286.30" y2="910.00" stroke="#14301c" stroke-width="1.3"/>
<line x1="788.40" y1="910.00" x2="1286.90" y2="910.00" stroke="#10260c" stroke-width="1.6"/>
<text x="767.00" y="917.00" font-size="19.5" text-anchor="end" fill="#000" stroke="#000" stroke-width="0.45" stroke-linejoin="round" textLength="29.30" lengthAdjust="spacingAndGlyphs" >0%</text>
<text x="767.00" y="883.80" font-size="19.5" text-anchor="end" fill="#000" stroke="#000" stroke-width="0.45" stroke-linejoin="round" textLength="40.20" lengthAdjust="spacingAndGlyphs" >10%</text>
<text x="767.00" y="850.60" font-size="19.5" text-anchor="end" fill="#000" stroke="#000" stroke-width="0.45" stroke-linejoin="round" textLength="40.20" lengthAdjust="spacingAndGlyphs" >20%</text>
<text x="767.00" y="817.40" font-size="19.5" text-anchor="end" fill="#000" stroke="#000" stroke-width="0.45" stroke-linejoin="round" textLength="40.20" lengthAdjust="spacingAndGlyphs" >30%</text>
<text x="767.00" y="784.20" font-size="19.5" text-anchor="end" fill="#000" stroke="#000" stroke-width="0.45" stroke-linejoin="round" textLength="40.20" lengthAdjust="spacingAndGlyphs" >40%</text>
<text x="767.00" y="751.00" font-size="19.5" text-anchor="end" fill="#000" stroke="#000" stroke-width="0.45" stroke-linejoin="round" textLength="40.20" lengthAdjust="spacingAndGlyphs" >50%</text>
<text x="767.00" y="717.80" font-size="19.5" text-anchor="end" fill="#000" stroke="#000" stroke-width="0.45" stroke-linejoin="round" textLength="40.20" lengthAdjust="spacingAndGlyphs" >60%</text>
<text x="767.00" y="684.60" font-size="19.5" text-anchor="end" fill="#000" stroke="#000" stroke-width="0.45" stroke-linejoin="round" textLength="40.20" lengthAdjust="spacingAndGlyphs" >70%</text>
<text x="767.00" y="651.40" font-size="19.5" text-anchor="end" fill="#000" stroke="#000" stroke-width="0.45" stroke-linejoin="round" textLength="40.20" lengthAdjust="spacingAndGlyphs" >80%</text>
<text x="767.00" y="618.20" font-size="19.5" text-anchor="end" fill="#000" stroke="#000" stroke-width="0.45" stroke-linejoin="round" textLength="40.20" lengthAdjust="spacingAndGlyphs" >90%</text>
<text x="767.00" y="585.00" font-size="19.5" text-anchor="end" fill="#000" stroke="#000" stroke-width="0.45" stroke-linejoin="round" textLength="51.40" lengthAdjust="spacingAndGlyphs" >100%</text>
<text x="0" y="0" font-size="21" text-anchor="end" textLength="11.3" lengthAdjust="spacingAndGlyphs" stroke="#000" stroke-width="0.5" transform="translate(789.40 936.20) rotate(-45)" dy="7.4">0</text>
<text x="0" y="0" font-size="21" text-anchor="end" textLength="11.3" lengthAdjust="spacingAndGlyphs" stroke="#000" stroke-width="0.5" transform="translate(826.24 936.20) rotate(-45)" dy="7.4">2</text>
<text x="0" y="0" font-size="21" text-anchor="end" textLength="11.3" lengthAdjust="spacingAndGlyphs" stroke="#000" stroke-width="0.5" transform="translate(863.07 936.20) rotate(-45)" dy="7.4">7</text>
<text x="0" y="0" font-size="21" text-anchor="end" textLength="22.6" lengthAdjust="spacingAndGlyphs" stroke="#000" stroke-width="0.5" transform="translate(899.91 936.20) rotate(-45)" dy="7.4">14</text>
<text x="0" y="0" font-size="21" text-anchor="end" textLength="22.6" lengthAdjust="spacingAndGlyphs" stroke="#000" stroke-width="0.5" transform="translate(936.75 936.20) rotate(-45)" dy="7.4">21</text>
<text x="0" y="0" font-size="21" text-anchor="end" textLength="22.6" lengthAdjust="spacingAndGlyphs" stroke="#000" stroke-width="0.5" transform="translate(973.59 936.20) rotate(-45)" dy="7.4">26</text>
<text x="0" y="0" font-size="21" text-anchor="end" textLength="22.6" lengthAdjust="spacingAndGlyphs" stroke="#000" stroke-width="0.5" transform="translate(1010.42 936.20) rotate(-45)" dy="7.4">30</text>
<text x="0" y="0" font-size="21" text-anchor="end" textLength="22.6" lengthAdjust="spacingAndGlyphs" stroke="#000" stroke-width="0.5" transform="translate(1047.26 936.20) rotate(-45)" dy="7.4">36</text>
<text x="0" y="0" font-size="21" text-anchor="end" textLength="22.6" lengthAdjust="spacingAndGlyphs" stroke="#000" stroke-width="0.5" transform="translate(1084.10 936.20) rotate(-45)" dy="7.4">44</text>
<text x="0" y="0" font-size="21" text-anchor="end" textLength="22.6" lengthAdjust="spacingAndGlyphs" stroke="#000" stroke-width="0.5" transform="translate(1120.93 936.20) rotate(-45)" dy="7.4">51</text>
<text x="0" y="0" font-size="21" text-anchor="end" textLength="22.6" lengthAdjust="spacingAndGlyphs" stroke="#000" stroke-width="0.5" transform="translate(1157.77 936.20) rotate(-45)" dy="7.4">59</text>
<text x="0" y="0" font-size="21" text-anchor="end" textLength="22.6" lengthAdjust="spacingAndGlyphs" stroke="#000" stroke-width="0.5" transform="translate(1194.61 936.20) rotate(-45)" dy="7.4">66</text>
<text x="0" y="0" font-size="21" text-anchor="end" textLength="22.6" lengthAdjust="spacingAndGlyphs" stroke="#000" stroke-width="0.5" transform="translate(1231.44 936.20) rotate(-45)" dy="7.4">73</text>
<text x="0" y="0" font-size="21" text-anchor="end" textLength="22.6" lengthAdjust="spacingAndGlyphs" stroke="#000" stroke-width="0.5" transform="translate(1268.28 936.20) rotate(-45)" dy="7.4">79</text>
<text x="705.00" y="744.00" font-size="19.5" text-anchor="middle" fill="#000" stroke="#000" stroke-width="0.45" stroke-linejoin="round" textLength="238.00" lengthAdjust="spacingAndGlyphs" transform="rotate(-90 705.00 744.00)" >Biofilm vs Planktonic (%)</text>
<text x="1037.65" y="988.00" font-size="18.5" text-anchor="middle" fill="#000" stroke="#000" stroke-width="0.45" stroke-linejoin="round" textLength="187.00" lengthAdjust="spacingAndGlyphs" >Elapsed time (days)</text>
<text x="1227.00" y="611.00" font-size="24" text-anchor="start" fill="#000" stroke="#000" stroke-width="0.45" stroke-linejoin="round" textLength="17.20" lengthAdjust="spacingAndGlyphs" >H</text>
<line x1="796.6" y1="448.3" x2="796.6" y2="452" stroke="#cfcfcf" stroke-width="1"/>
<line x1="945.2" y1="448.3" x2="945.2" y2="452" stroke="#cfcfcf" stroke-width="1"/>
</g>
<g font-family="Liberation Sans, sans-serif" font-weight="bold">
<rect x="121.80" y="1011.30" width="510.60" height="308.00" fill="#fff" stroke="#000" stroke-width="2.7"/>
<line x1="121.80" y1="1275.30" x2="131.60" y2="1275.30" stroke="#000" stroke-width="2.5"/>
<line x1="121.80" y1="1231.30" x2="131.60" y2="1231.30" stroke="#000" stroke-width="2.5"/>
<line x1="121.80" y1="1187.30" x2="131.60" y2="1187.30" stroke="#000" stroke-width="2.5"/>
<line x1="121.80" y1="1143.30" x2="131.60" y2="1143.30" stroke="#000" stroke-width="2.5"/>
<line x1="121.80" y1="1099.30" x2="131.60" y2="1099.30" stroke="#000" stroke-width="2.5"/>
<line x1="121.80" y1="1055.30" x2="131.60" y2="1055.30" stroke="#000" stroke-width="2.5"/>
<line x1="181.87" y1="1319.30" x2="181.87" y2="1309.50" stroke="#000" stroke-width="2.5"/>
<line x1="241.94" y1="1319.30" x2="241.94" y2="1309.50" stroke="#000" stroke-width="2.5"/>
<line x1="302.01" y1="1319.30" x2="302.01" y2="1309.50" stroke="#000" stroke-width="2.5"/>
<line x1="362.08" y1="1319.30" x2="362.08" y2="1309.50" stroke="#000" stroke-width="2.5"/>
<line x1="422.15" y1="1319.30" x2="422.15" y2="1309.50" stroke="#000" stroke-width="2.5"/>
<line x1="482.22" y1="1319.30" x2="482.22" y2="1309.50" stroke="#000" stroke-width="2.5"/>
<line x1="542.29" y1="1319.30" x2="542.29" y2="1309.50" stroke="#000" stroke-width="2.5"/>
<line x1="602.36" y1="1319.30" x2="602.36" y2="1309.50" stroke="#000" stroke-width="2.5"/>
<line x1="158.60" y1="1011.30" x2="158.60" y2="1319.30" stroke="#000" stroke-width="2.5"/>
<line x1="295.60" y1="1011.30" x2="295.60" y2="1319.30" stroke="#000" stroke-width="2.5"/>
<circle cx="122.0" cy="1175.4" r="8.7" fill="#5b9bd5" stroke="#160d08" stroke-width="1.5"/>
<circle cx="138.8" cy="1194.7" r="8.7" fill="#5b9bd5" stroke="#160d08" stroke-width="1.5"/>
<circle cx="132.8" cy="1216.5" r="8.7" fill="#5b9bd5" stroke="#160d08" stroke-width="1.5"/>
<circle cx="126.3" cy="1238.0" r="8.7" fill="#5b9bd5" stroke="#160d08" stroke-width="1.5"/>
<circle cx="134.2" cy="1278.2" r="8.7" fill="#5b9bd5" stroke="#160d08" stroke-width="1.5"/>
<circle cx="168.7" cy="1230.9" r="8.7" fill="#5b9bd5" stroke="#160d08" stroke-width="1.5"/>
<circle cx="156.7" cy="1253.1" r="8.7" fill="#5b9bd5" stroke="#160d08" stroke-width="1.5"/>
<circle cx="175.1" cy="1255.0" r="8.7" fill="#5b9bd5" stroke="#160d08" stroke-width="1.5"/>
<circle cx="156.7" cy="1269.1" r="8.7" fill="#5b9bd5" stroke="#160d08" stroke-width="1.5"/>
<circle cx="162.7" cy="1266.3" r="8.7" fill="#5b9bd5" stroke="#160d08" stroke-width="1.5"/>
<circle cx="163.9" cy="1277.5" r="8.7" fill="#5b9bd5" stroke="#160d08" stroke-width="1.5"/>
<circle cx="198.8" cy="1233.7" r="8.7" fill="#5b9bd5" stroke="#160d08" stroke-width="1.5"/>
<circle cx="210.5" cy="1237.6" r="8.7" fill="#5b9bd5" stroke="#160d08" stroke-width="1.5"/>
<circle cx="222.7" cy="1235.6" r="8.7" fill="#5b9bd5" stroke="#160d08" stroke-width="1.5"/>
<circle cx="253.8" cy="1244.0" r="8.7" fill="#5b9bd5" stroke="#160d08" stroke-width="1.5"/>
<circle cx="264.6" cy="1240.0" r="8.7" fill="#5b9bd5" stroke="#160d08" stroke-width="1.5"/>
<circle cx="282.3" cy="1228.0" r="8.7" fill="#5b9bd5" stroke="#160d08" stroke-width="1.5"/>
<circle cx="295.0" cy="1236.1" r="8.7" fill="#5b9bd5" stroke="#160d08" stroke-width="1.5"/>
<circle cx="295.7" cy="1267.9" r="8.7" fill="#5b9bd5" stroke="#160d08" stroke-width="1.5"/>
<circle cx="301.0" cy="1265.1" r="8.7" fill="#5b9bd5" stroke="#160d08" stroke-width="1.5"/>
<circle cx="306.9" cy="1266.0" r="8.7" fill="#5b9bd5" stroke="#160d08" stroke-width="1.5"/>
<circle cx="330.4" cy="1275.1" r="8.7" fill="#5b9bd5" stroke="#160d08" stroke-width="1.5"/>
<circle cx="343.5" cy="1298.3" r="8.7" fill="#5b9bd5" stroke="#160d08" stroke-width="1.5"/>
<circle cx="366.7" cy="1297.8" r="8.7" fill="#5b9bd5" stroke="#160d08" stroke-width="1.5"/>
<circle cx="384.7" cy="1305.0" r="8.7" fill="#5b9bd5" stroke="#160d08" stroke-width="1.5"/>
<circle cx="385.3" cy="1305.0" r="8.7" fill="#5b9bd5" stroke="#160d08" stroke-width="1.5"/>
<circle cx="414.2" cy="1310.3" r="8.7" fill="#5b9bd5" stroke="#160d08" stroke-width="1.5"/>
<circle cx="426.9" cy="1311.0" r="8.7" fill="#5b9bd5" stroke="#160d08" stroke-width="1.5"/>
<circle cx="457.0" cy="1312.9" r="8.7" fill="#5b9bd5" stroke="#160d08" stroke-width="1.5"/>
<circle cx="475.0" cy="1313.9" r="8.7" fill="#5b9bd5" stroke="#160d08" stroke-width="1.5"/>
<circle cx="498.9" cy="1306.7" r="8.7" fill="#5b9bd5" stroke="#160d08" stroke-width="1.5"/>
<circle cx="516.4" cy="1306.7" r="8.7" fill="#5b9bd5" stroke="#160d08" stroke-width="1.5"/>
<circle cx="540.8" cy="1310.5" r="8.7" fill="#5b9bd5" stroke="#160d08" stroke-width="1.5"/>
<circle cx="558.9" cy="1311.5" r="8.7" fill="#5b9bd5" stroke="#160d08" stroke-width="1.5"/>
<circle cx="576.7" cy="1308.6" r="8.7" fill="#5b9bd5" stroke="#160d08" stroke-width="1.5"/>
<circle cx="594.6" cy="1303.3" r="8.7" fill="#5b9bd5" stroke="#160d08" stroke-width="1.5"/>
<circle cx="619.2" cy="1313.4" r="8.7" fill="#5b9bd5" stroke="#160d08" stroke-width="1.5"/>
<circle cx="133.0" cy="1069.4" r="8.7" fill="#ed7d31" stroke="#160d08" stroke-width="1.5"/>
<circle cx="138.8" cy="1122.0" r="8.7" fill="#ed7d31" stroke="#160d08" stroke-width="1.5"/>
<circle cx="156.7" cy="1129.4" r="8.7" fill="#ed7d31" stroke="#160d08" stroke-width="1.5"/>
<circle cx="168.7" cy="1128.0" r="8.7" fill="#ed7d31" stroke="#160d08" stroke-width="1.5"/>
<circle cx="175.1" cy="1139.0" r="8.7" fill="#ed7d31" stroke="#160d08" stroke-width="1.5"/>
<circle cx="122.0" cy="1191.4" r="8.7" fill="#ed7d31" stroke="#160d08" stroke-width="1.5"/>
<circle cx="126.3" cy="1252.4" r="8.7" fill="#ed7d31" stroke="#160d08" stroke-width="1.5"/>
<circle cx="134.2" cy="1246.4" r="8.7" fill="#ed7d31" stroke="#160d08" stroke-width="1.5"/>
<circle cx="163.9" cy="1240.9" r="8.7" fill="#ed7d31" stroke="#160d08" stroke-width="1.5"/>
<circle cx="157.4" cy="1310.3" r="8.7" fill="#ed7d31" stroke="#160d08" stroke-width="1.5"/>
<circle cx="162.9" cy="1305.0" r="8.7" fill="#ed7d31" stroke="#160d08" stroke-width="1.5"/>
<circle cx="199.3" cy="1186.4" r="8.7" fill="#ed7d31" stroke="#160d08" stroke-width="1.5"/>
<circle cx="222.5" cy="1197.6" r="8.7" fill="#ed7d31" stroke="#160d08" stroke-width="1.5"/>
<circle cx="254.3" cy="1181.1" r="8.7" fill="#ed7d31" stroke="#160d08" stroke-width="1.5"/>
<circle cx="264.6" cy="1159.6" r="8.7" fill="#ed7d31" stroke="#160d08" stroke-width="1.5"/>
<circle cx="282.3" cy="1212.7" r="8.7" fill="#ed7d31" stroke="#160d08" stroke-width="1.5"/>
<circle cx="294.5" cy="1218.2" r="8.7" fill="#ed7d31" stroke="#160d08" stroke-width="1.5"/>
<circle cx="296.2" cy="1159.8" r="8.7" fill="#ed7d31" stroke="#160d08" stroke-width="1.5"/>
<circle cx="306.5" cy="1248.8" r="8.7" fill="#ed7d31" stroke="#160d08" stroke-width="1.5"/>
<circle cx="301.0" cy="1302.2" r="8.7" fill="#ed7d31" stroke="#160d08" stroke-width="1.5"/>
<circle cx="330.4" cy="1272.7" r="8.7" fill="#ed7d31" stroke="#160d08" stroke-width="1.5"/>
<circle cx="343.5" cy="1297.4" r="8.7" fill="#ed7d31" stroke="#160d08" stroke-width="1.5"/>
<circle cx="367.0" cy="1263.9" r="8.7" fill="#ed7d31" stroke="#160d08" stroke-width="1.5"/>
<circle cx="384.7" cy="1300.2" r="8.7" fill="#ed7d31" stroke="#160d08" stroke-width="1.5"/>
<circle cx="385.3" cy="1300.2" r="8.7" fill="#ed7d31" stroke="#160d08" stroke-width="1.5"/>
<circle cx="414.2" cy="1308.6" r="8.7" fill="#ed7d31" stroke="#160d08" stroke-width="1.5"/>
<circle cx="426.9" cy="1309.3" r="8.7" fill="#ed7d31" stroke="#160d08" stroke-width="1.5"/>
<circle cx="456.6" cy="1301.9" r="8.7" fill="#ed7d31" stroke="#160d08" stroke-width="1.5"/>
<circle cx="475.0" cy="1303.3" r="8.7" fill="#ed7d31" stroke="#160d08" stroke-width="1.5"/>
<circle cx="498.9" cy="1312.4" r="8.7" fill="#ed7d31" stroke="#160d08" stroke-width="1.5"/>
<circle cx="516.4" cy="1315.1" r="8.7" fill="#ed7d31" stroke="#160d08" stroke-width="1.5"/>
<circle cx="540.8" cy="1314.6" r="8.7" fill="#ed7d31" stroke="#160d08" stroke-width="1.5"/>
<circle cx="558.9" cy="1315.8" r="8.7" fill="#ed7d31" stroke="#160d08" stroke-width="1.5"/>
<circle cx="576.7" cy="1315.8" r="8.7" fill="#ed7d31" stroke="#160d08" stroke-width="1.5"/>
<circle cx="594.6" cy="1311.0" r="8.7" fill="#ed7d31" stroke="#160d08" stroke-width="1.5"/>
<circle cx="619.2" cy="1310.3" r="8.7" fill="#ed7d31" stroke="#160d08" stroke-width="1.5"/>
<text x="93.00" y="1328.50" font-size="27" text-anchor="end" fill="#000" stroke="#000" stroke-width="0.45" stroke-linejoin="round" textLength="16.10" lengthAdjust="spacingAndGlyphs" >0</text>
<text x="93.00" y="1284.50" font-size="27" text-anchor="end" fill="#000" stroke="#000" stroke-width="0.45" stroke-linejoin="round" textLength="32.20" lengthAdjust="spacingAndGlyphs" >20</text>
<text x="93.00" y="1240.50" font-size="27" text-anchor="end" fill="#000" stroke="#000" stroke-width="0.45" stroke-linejoin="round" textLength="32.20" lengthAdjust="spacingAndGlyphs" >40</text>
<text x="93.00" y="1196.50" font-size="27" text-anchor="end" fill="#000" stroke="#000" stroke-width="0.45" stroke-linejoin="round" textLength="32.20" lengthAdjust="spacingAndGlyphs" >60</text>
<text x="93.00" y="1152.50" font-size="27" text-anchor="end" fill="#000" stroke="#000" stroke-width="0.45" stroke-linejoin="round" textLength="32.20" lengthAdjust="spacingAndGlyphs" >80</text>
<text x="93.00" y="1108.50" font-size="27" text-anchor="end" fill="#000" stroke="#000" stroke-width="0.45" stroke-linejoin="round" textLength="48.30" lengthAdjust="spacingAndGlyphs" >100</text>
<text x="93.00" y="1064.50" font-size="27" text-anchor="end" fill="#000" stroke="#000" stroke-width="0.45" stroke-linejoin="round" textLength="48.30" lengthAdjust="spacingAndGlyphs" >120</text>
<text x="93.00" y="1020.50" font-size="27" text-anchor="end" fill="#000" stroke="#000" stroke-width="0.45" stroke-linejoin="round" textLength="48.30" lengthAdjust="spacingAndGlyphs" >140</text>
<text x="121.80" y="1370.00" font-size="27" text-anchor="middle" fill="#000" stroke="#000" stroke-width="0.45" stroke-linejoin="round" textLength="16.00" lengthAdjust="spacingAndGlyphs" >0</text>
<text x="181.87" y="1370.00" font-size="27" text-anchor="middle" fill="#000" stroke="#000" stroke-width="0.45" stroke-linejoin="round" textLength="32.00" lengthAdjust="spacingAndGlyphs" >10</text>
<text x="241.94" y="1370.00" font-size="27" text-anchor="middle" fill="#000" stroke="#000" stroke-width="0.45" stroke-linejoin="round" textLength="32.00" lengthAdjust="spacingAndGlyphs" >20</text>
<text x="302.01" y="1370.00" font-size="27" text-anchor="middle" fill="#000" stroke="#000" stroke-width="0.45" stroke-linejoin="round" textLength="32.00" lengthAdjust="spacingAndGlyphs" >30</text>
<text x="362.08" y="1370.00" font-size="27" text-anchor="middle" fill="#000" stroke="#000" stroke-width="0.45" stroke-linejoin="round" textLength="32.00" lengthAdjust="spacingAndGlyphs" >40</text>
<text x="422.15" y="1370.00" font-size="27" text-anchor="middle" fill="#000" stroke="#000" stroke-width="0.45" stroke-linejoin="round" textLength="32.00" lengthAdjust="spacingAndGlyphs" >50</text>
<text x="482.22" y="1370.00" font-size="27" text-anchor="middle" fill="#000" stroke="#000" stroke-width="0.45" stroke-linejoin="round" textLength="32.00" lengthAdjust="spacingAndGlyphs" >60</text>
<text x="542.29" y="1370.00" font-size="27" text-anchor="middle" fill="#000" stroke="#000" stroke-width="0.45" stroke-linejoin="round" textLength="32.00" lengthAdjust="spacingAndGlyphs" >70</text>
<text x="602.36" y="1370.00" font-size="27" text-anchor="middle" fill="#000" stroke="#000" stroke-width="0.45" stroke-linejoin="round" textLength="32.00" lengthAdjust="spacingAndGlyphs" >80</text>
<text font-size="27" text-anchor="middle" textLength="358" lengthAdjust="spacingAndGlyphs" stroke="#000" stroke-width="0.5" transform="translate(34.60 1166.20) rotate(-90)">Planktonic biomass (mg L<tspan font-size="17.5" dy="-10.5">-1</tspan><tspan dy="10.5">)</tspan></text>
<text x="377.10" y="1405.00" font-size="26" text-anchor="middle" fill="#000" stroke="#000" stroke-width="0.45" stroke-linejoin="round" textLength="150.50" lengthAdjust="spacingAndGlyphs" >Time (days)</text>
<circle cx="521.6" cy="1064.1" r="8.9" fill="#5b9bd5" stroke="#160d08" stroke-width="1.5"/>
<circle cx="521.6" cy="1112.4" r="8.9" fill="#ed7d31" stroke="#160d08" stroke-width="1.5"/>
<text x="542.60" y="1073.46" font-size="26" text-anchor="start" fill="#000" stroke="#000" stroke-width="0.45" stroke-linejoin="round" textLength="25.60" lengthAdjust="spacingAndGlyphs" >M</text>
<text x="542.60" y="1121.76" font-size="26" text-anchor="start" fill="#000" stroke="#000" stroke-width="0.45" stroke-linejoin="round" textLength="18.00" lengthAdjust="spacingAndGlyphs" >H</text>
<rect x="791.80" y="1011.30" width="522.70" height="300.70" fill="#fff" stroke="#000" stroke-width="2.7"/>
<line x1="791.80" y1="1274.41" x2="801.60" y2="1274.41" stroke="#000" stroke-width="2.5"/>
<line x1="791.80" y1="1236.83" x2="801.60" y2="1236.83" stroke="#000" stroke-width="2.5"/>
<line x1="791.80" y1="1199.24" x2="801.60" y2="1199.24" stroke="#000" stroke-width="2.5"/>
<line x1="791.80" y1="1161.65" x2="801.60" y2="1161.65" stroke="#000" stroke-width="2.5"/>
<line x1="791.80" y1="1124.06" x2="801.60" y2="1124.06" stroke="#000" stroke-width="2.5"/>
<line x1="791.80" y1="1086.47" x2="801.60" y2="1086.47" stroke="#000" stroke-width="2.5"/>
<line x1="791.80" y1="1048.89" x2="801.60" y2="1048.89" stroke="#000" stroke-width="2.5"/>
<line x1="853.29" y1="1312.00" x2="853.29" y2="1302.20" stroke="#000" stroke-width="2.5"/>
<line x1="914.79" y1="1312.00" x2="914.79" y2="1302.20" stroke="#000" stroke-width="2.5"/>
<line x1="976.28" y1="1312.00" x2="976.28" y2="1302.20" stroke="#000" stroke-width="2.5"/>
<line x1="1037.78" y1="1312.00" x2="1037.78" y2="1302.20" stroke="#000" stroke-width="2.5"/>
<line x1="1099.27" y1="1312.00" x2="1099.27" y2="1302.20" stroke="#000" stroke-width="2.5"/>
<line x1="1160.76" y1="1312.00" x2="1160.76" y2="1302.20" stroke="#000" stroke-width="2.5"/>
<line x1="1222.26" y1="1312.00" x2="1222.26" y2="1302.20" stroke="#000" stroke-width="2.5"/>
<line x1="1283.75" y1="1312.00" x2="1283.75" y2="1302.20" stroke="#000" stroke-width="2.5"/>
<line x1="828.60" y1="1011.30" x2="828.60" y2="1312.00" stroke="#000" stroke-width="2.5"/>
<line x1="968.80" y1="1011.30" x2="968.80" y2="1312.00" stroke="#000" stroke-width="2.5"/>
<circle cx="802.8" cy="1172.2" r="8.7" fill="#5b9bd5" stroke="#160d08" stroke-width="1.5"/>
<circle cx="809.0" cy="1183.5" r="8.7" fill="#5b9bd5" stroke="#160d08" stroke-width="1.5"/>
<circle cx="791.5" cy="1201.7" r="8.7" fill="#5b9bd5" stroke="#160d08" stroke-width="1.5"/>
<circle cx="796.3" cy="1240.4" r="8.7" fill="#5b9bd5" stroke="#160d08" stroke-width="1.5"/>
<circle cx="804.7" cy="1270.3" r="8.7" fill="#5b9bd5" stroke="#160d08" stroke-width="1.5"/>
<circle cx="828.6" cy="1242.8" r="8.7" fill="#5b9bd5" stroke="#160d08" stroke-width="1.5"/>
<circle cx="826.7" cy="1251.2" r="8.7" fill="#5b9bd5" stroke="#160d08" stroke-width="1.5"/>
<circle cx="846.6" cy="1253.1" r="8.7" fill="#5b9bd5" stroke="#160d08" stroke-width="1.5"/>
<circle cx="839.4" cy="1259.6" r="8.7" fill="#5b9bd5" stroke="#160d08" stroke-width="1.5"/>
<circle cx="834.6" cy="1274.4" r="8.7" fill="#5b9bd5" stroke="#160d08" stroke-width="1.5"/>
<circle cx="870.5" cy="1255.0" r="8.7" fill="#5b9bd5" stroke="#160d08" stroke-width="1.5"/>
<circle cx="882.0" cy="1254.8" r="8.7" fill="#5b9bd5" stroke="#160d08" stroke-width="1.5"/>
<circle cx="894.4" cy="1253.1" r="8.7" fill="#5b9bd5" stroke="#160d08" stroke-width="1.5"/>
<circle cx="927.2" cy="1249.3" r="8.7" fill="#5b9bd5" stroke="#160d08" stroke-width="1.5"/>
<circle cx="938.2" cy="1223.0" r="8.7" fill="#5b9bd5" stroke="#160d08" stroke-width="1.5"/>
<circle cx="956.1" cy="1256.0" r="8.7" fill="#5b9bd5" stroke="#160d08" stroke-width="1.5"/>
<circle cx="970.5" cy="1254.3" r="8.7" fill="#5b9bd5" stroke="#160d08" stroke-width="1.5"/>
<circle cx="968.1" cy="1275.6" r="8.7" fill="#5b9bd5" stroke="#160d08" stroke-width="1.5"/>
<circle cx="974.5" cy="1275.1" r="8.7" fill="#5b9bd5" stroke="#160d08" stroke-width="1.5"/>
<circle cx="981.0" cy="1268.7" r="8.7" fill="#5b9bd5" stroke="#160d08" stroke-width="1.5"/>
<circle cx="1005.6" cy="1285.2" r="8.7" fill="#5b9bd5" stroke="#160d08" stroke-width="1.5"/>
<circle cx="1018.8" cy="1296.7" r="8.7" fill="#5b9bd5" stroke="#160d08" stroke-width="1.5"/>
<circle cx="1042.2" cy="1292.3" r="8.7" fill="#5b9bd5" stroke="#160d08" stroke-width="1.5"/>
<circle cx="1060.7" cy="1294.7" r="8.7" fill="#5b9bd5" stroke="#160d08" stroke-width="1.5"/>
<circle cx="1041.7" cy="1291.4" r="8.7" fill="#5b9bd5" stroke="#160d08" stroke-width="1.5"/>
<circle cx="1060.9" cy="1294.7" r="8.7" fill="#5b9bd5" stroke="#160d08" stroke-width="1.5"/>
<circle cx="1091.5" cy="1296.7" r="8.7" fill="#5b9bd5" stroke="#160d08" stroke-width="1.5"/>
<circle cx="1104.4" cy="1301.0" r="8.7" fill="#5b9bd5" stroke="#160d08" stroke-width="1.5"/>
<circle cx="1135.0" cy="1296.7" r="8.7" fill="#5b9bd5" stroke="#160d08" stroke-width="1.5"/>
<circle cx="1153.0" cy="1295.9" r="8.7" fill="#5b9bd5" stroke="#160d08" stroke-width="1.5"/>
<circle cx="1177.4" cy="1299.0" r="8.7" fill="#5b9bd5" stroke="#160d08" stroke-width="1.5"/>
<circle cx="1195.3" cy="1295.9" r="8.7" fill="#5b9bd5" stroke="#160d08" stroke-width="1.5"/>
<circle cx="1220.5" cy="1301.0" r="8.7" fill="#5b9bd5" stroke="#160d08" stroke-width="1.5"/>
<circle cx="1238.6" cy="1303.3" r="8.7" fill="#5b9bd5" stroke="#160d08" stroke-width="1.5"/>
<circle cx="1275.5" cy="1259.6" r="8.7" fill="#5b9bd5" stroke="#160d08" stroke-width="1.5"/>
<circle cx="1300.6" cy="1272.2" r="8.7" fill="#5b9bd5" stroke="#160d08" stroke-width="1.5"/>
<circle cx="802.8" cy="1178.7" r="8.7" fill="#ed7d31" stroke="#160d08" stroke-width="1.5"/>
<circle cx="792.0" cy="1204.5" r="8.7" fill="#ed7d31" stroke="#160d08" stroke-width="1.5"/>
<circle cx="796.3" cy="1216.0" r="8.7" fill="#ed7d31" stroke="#160d08" stroke-width="1.5"/>
<circle cx="827.4" cy="1204.1" r="8.7" fill="#ed7d31" stroke="#160d08" stroke-width="1.5"/>
<circle cx="804.2" cy="1257.2" r="8.7" fill="#ed7d31" stroke="#160d08" stroke-width="1.5"/>
<circle cx="808.8" cy="1262.7" r="8.7" fill="#ed7d31" stroke="#160d08" stroke-width="1.5"/>
<circle cx="833.4" cy="1250.0" r="8.7" fill="#ed7d31" stroke="#160d08" stroke-width="1.5"/>
<circle cx="839.9" cy="1249.5" r="8.7" fill="#ed7d31" stroke="#160d08" stroke-width="1.5"/>
<circle cx="846.1" cy="1262.0" r="8.7" fill="#ed7d31" stroke="#160d08" stroke-width="1.5"/>
<circle cx="829.1" cy="1306.2" r="8.7" fill="#ed7d31" stroke="#160d08" stroke-width="1.5"/>
<circle cx="870.5" cy="1211.7" r="8.7" fill="#ed7d31" stroke="#160d08" stroke-width="1.5"/>
<circle cx="882.4" cy="1217.7" r="8.7" fill="#ed7d31" stroke="#160d08" stroke-width="1.5"/>
<circle cx="894.4" cy="1205.7" r="8.7" fill="#ed7d31" stroke="#160d08" stroke-width="1.5"/>
<circle cx="927.2" cy="1212.4" r="8.7" fill="#ed7d31" stroke="#160d08" stroke-width="1.5"/>
<circle cx="938.2" cy="1135.2" r="8.7" fill="#ed7d31" stroke="#160d08" stroke-width="1.5"/>
<circle cx="956.1" cy="1189.7" r="8.7" fill="#ed7d31" stroke="#160d08" stroke-width="1.5"/>
<circle cx="970.5" cy="1062.2" r="8.7" fill="#ed7d31" stroke="#160d08" stroke-width="1.5"/>
<circle cx="968.6" cy="1210.0" r="8.7" fill="#ed7d31" stroke="#160d08" stroke-width="1.5"/>
<circle cx="974.8" cy="1225.4" r="8.7" fill="#ed7d31" stroke="#160d08" stroke-width="1.5"/>
<circle cx="981.0" cy="1241.1" r="8.7" fill="#ed7d31" stroke="#160d08" stroke-width="1.5"/>
<circle cx="1005.6" cy="1235.6" r="8.7" fill="#ed7d31" stroke="#160d08" stroke-width="1.5"/>
<circle cx="1018.8" cy="1297.8" r="8.7" fill="#ed7d31" stroke="#160d08" stroke-width="1.5"/>
<circle cx="1042.2" cy="1295.9" r="8.7" fill="#ed7d31" stroke="#160d08" stroke-width="1.5"/>
<circle cx="1060.7" cy="1301.0" r="8.7" fill="#ed7d31" stroke="#160d08" stroke-width="1.5"/>
<circle cx="1041.7" cy="1295.9" r="8.7" fill="#ed7d31" stroke="#160d08" stroke-width="1.5"/>
<circle cx="1060.9" cy="1301.4" r="8.7" fill="#ed7d31" stroke="#160d08" stroke-width="1.5"/>
<circle cx="1091.5" cy="1303.8" r="8.7" fill="#ed7d31" stroke="#160d08" stroke-width="1.5"/>
<circle cx="1103.9" cy="1305.0" r="8.7" fill="#ed7d31" stroke="#160d08" stroke-width="1.5"/>
<circle cx="1135.0" cy="1306.2" r="8.7" fill="#ed7d31" stroke="#160d08" stroke-width="1.5"/>
<circle cx="1153.0" cy="1305.7" r="8.7" fill="#ed7d31" stroke="#160d08" stroke-width="1.5"/>
<circle cx="1177.4" cy="1307.4" r="8.7" fill="#ed7d31" stroke="#160d08" stroke-width="1.5"/>
<circle cx="1195.3" cy="1306.9" r="8.7" fill="#ed7d31" stroke="#160d08" stroke-width="1.5"/>
<circle cx="1220.5" cy="1306.7" r="8.7" fill="#ed7d31" stroke="#160d08" stroke-width="1.5"/>
<circle cx="1238.6" cy="1307.9" r="8.7" fill="#ed7d31" stroke="#160d08" stroke-width="1.5"/>
<circle cx="1257.1" cy="1302.6" r="8.7" fill="#ed7d31" stroke="#160d08" stroke-width="1.5"/>
<circle cx="1275.5" cy="1306.2" r="8.7" fill="#ed7d31" stroke="#160d08" stroke-width="1.5"/>
<circle cx="1300.6" cy="1306.2" r="8.7" fill="#ed7d31" stroke="#160d08" stroke-width="1.5"/>
<text x="763.80" y="1321.20" font-size="27" text-anchor="end" fill="#000" stroke="#000" stroke-width="0.45" stroke-linejoin="round" textLength="16.10" lengthAdjust="spacingAndGlyphs" >0</text>
<text x="763.80" y="1283.61" font-size="27" text-anchor="end" fill="#000" stroke="#000" stroke-width="0.45" stroke-linejoin="round" textLength="32.20" lengthAdjust="spacingAndGlyphs" >20</text>
<text x="763.80" y="1246.03" font-size="27" text-anchor="end" fill="#000" stroke="#000" stroke-width="0.45" stroke-linejoin="round" textLength="32.20" lengthAdjust="spacingAndGlyphs" >40</text>
<text x="763.80" y="1208.44" font-size="27" text-anchor="end" fill="#000" stroke="#000" stroke-width="0.45" stroke-linejoin="round" textLength="32.20" lengthAdjust="spacingAndGlyphs" >60</text>
<text x="763.80" y="1170.85" font-size="27" text-anchor="end" fill="#000" stroke="#000" stroke-width="0.45" stroke-linejoin="round" textLength="32.20" lengthAdjust="spacingAndGlyphs" >80</text>
<text x="763.80" y="1133.26" font-size="27" text-anchor="end" fill="#000" stroke="#000" stroke-width="0.45" stroke-linejoin="round" textLength="48.30" lengthAdjust="spacingAndGlyphs" >100</text>
<text x="763.80" y="1095.67" font-size="27" text-anchor="end" fill="#000" stroke="#000" stroke-width="0.45" stroke-linejoin="round" textLength="48.30" lengthAdjust="spacingAndGlyphs" >120</text>
<text x="763.80" y="1058.09" font-size="27" text-anchor="end" fill="#000" stroke="#000" stroke-width="0.45" stroke-linejoin="round" textLength="48.30" lengthAdjust="spacingAndGlyphs" >140</text>
<text x="763.80" y="1020.50" font-size="27" text-anchor="end" fill="#000" stroke="#000" stroke-width="0.45" stroke-linejoin="round" textLength="48.30" lengthAdjust="spacingAndGlyphs" >160</text>
<text x="791.80" y="1361.00" font-size="27" text-anchor="middle" fill="#000" stroke="#000" stroke-width="0.45" stroke-linejoin="round" textLength="16.00" lengthAdjust="spacingAndGlyphs" >0</text>
<text x="853.29" y="1361.00" font-size="27" text-anchor="middle" fill="#000" stroke="#000" stroke-width="0.45" stroke-linejoin="round" textLength="32.00" lengthAdjust="spacingAndGlyphs" >10</text>
<text x="914.79" y="1361.00" font-size="27" text-anchor="middle" fill="#000" stroke="#000" stroke-width="0.45" stroke-linejoin="round" textLength="32.00" lengthAdjust="spacingAndGlyphs" >20</text>
<text x="976.28" y="1361.00" font-size="27" text-anchor="middle" fill="#000" stroke="#000" stroke-width="0.45" stroke-linejoin="round" textLength="32.00" lengthAdjust="spacingAndGlyphs" >30</text>
<text x="1037.78" y="1361.00" font-size="27" text-anchor="middle" fill="#000" stroke="#000" stroke-width="0.45" stroke-linejoin="round" textLength="32.00" lengthAdjust="spacingAndGlyphs" >40</text>
<text x="1099.27" y="1361.00" font-size="27" text-anchor="middle" fill="#000" stroke="#000" stroke-width="0.45" stroke-linejoin="round" textLength="32.00" lengthAdjust="spacingAndGlyphs" >50</text>
<text x="1160.76" y="1361.00" font-size="27" text-anchor="middle" fill="#000" stroke="#000" stroke-width="0.45" stroke-linejoin="round" textLength="32.00" lengthAdjust="spacingAndGlyphs" >60</text>
<text x="1222.26" y="1361.00" font-size="27" text-anchor="middle" fill="#000" stroke="#000" stroke-width="0.45" stroke-linejoin="round" textLength="32.00" lengthAdjust="spacingAndGlyphs" >70</text>
<text x="1283.75" y="1361.00" font-size="27" text-anchor="middle" fill="#000" stroke="#000" stroke-width="0.45" stroke-linejoin="round" textLength="32.00" lengthAdjust="spacingAndGlyphs" >80</text>
<text font-size="27" text-anchor="middle" textLength="358" lengthAdjust="spacingAndGlyphs" stroke="#000" stroke-width="0.5" transform="translate(706.00 1154.30) rotate(-90)">Planktonic biomass (mg L<tspan font-size="17.5" dy="-10.5">-1</tspan><tspan dy="10.5">)</tspan></text>
<text x="1053.15" y="1395.00" font-size="26" text-anchor="middle" fill="#000" stroke="#000" stroke-width="0.45" stroke-linejoin="round" textLength="146.00" lengthAdjust="spacingAndGlyphs" >Time (days)</text>
<circle cx="1199.2" cy="1071.8" r="8.9" fill="#5b9bd5" stroke="#160d08" stroke-width="1.5"/>
<circle cx="1199.2" cy="1119.6" r="8.9" fill="#ed7d31" stroke="#160d08" stroke-width="1.5"/>
<text x="1226.80" y="1080.26" font-size="23.5" text-anchor="start" fill="#000" stroke="#000" stroke-width="0.45" stroke-linejoin="round" textLength="38.00" lengthAdjust="spacingAndGlyphs" >MT</text>
<text x="1226.80" y="1128.06" font-size="23.5" text-anchor="start" fill="#000" stroke="#000" stroke-width="0.45" stroke-linejoin="round" textLength="31.00" lengthAdjust="spacingAndGlyphs" >HT</text>
</g>
</svg>
</body>
</html>
